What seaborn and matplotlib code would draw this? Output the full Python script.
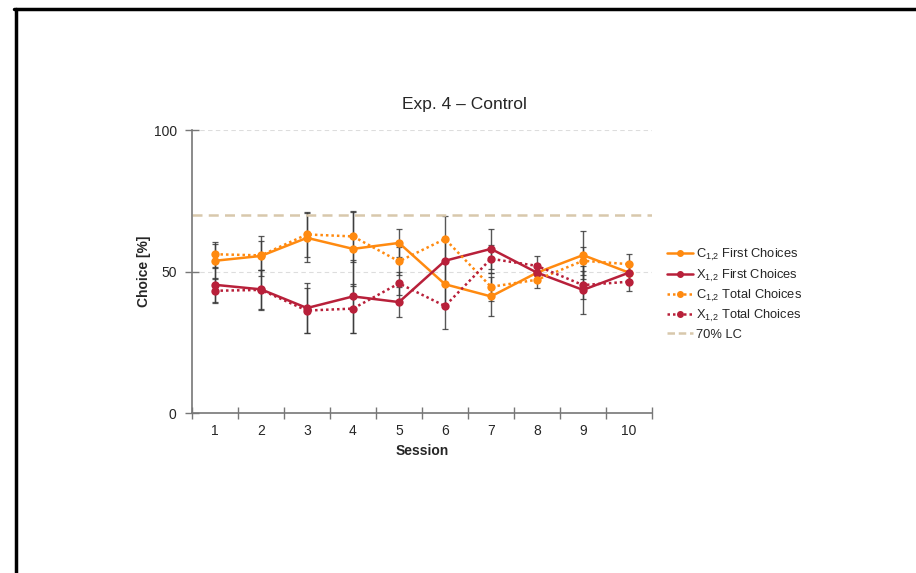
import matplotlib
matplotlib.use('Agg')
import matplotlib.pyplot as plt
import pandas as pd
import seaborn as sns
from matplotlib.lines import Line2D

# values
sessions = [1, 2, 3, 4, 5, 6, 7, 8, 9, 10]
c_first = [53.8, 55.5, 61.9, 58.0, 60.1, 45.5, 41.2, 49.6, 55.8, 49.6]
x_first = [45.3, 43.7, 37.1, 41.2, 39.2, 53.8, 58.0, 49.6, 43.5, 49.6]
c_total = [56.1, 55.7, 63.1, 62.4, 53.6, 61.5, 44.6, 47.1, 53.8, 52.6]
x_total = [43.2, 43.5, 36.2, 36.9, 45.8, 37.8, 54.5, 52.0, 45.2, 46.4]
c_first_err = [6.0, 7.0, 8.7, 13.0, 4.8, 8.0, 7.0, 3.0, 8.5, 3.5]
x_first_err = [6.0, 7.0, 8.8, 13.0, 5.2, 8.0, 7.0, 3.0, 8.5, 3.5]
c_total_err = [4.5, 5.0, 8.0, 9.0, 5.0, 8.0, 5.0, 3.0, 5.0, 3.5]
x_total_err = [4.3, 7.0, 8.0, 8.6, 4.0, 8.0, 5.0, 3.5, 5.0, 3.2]
lc_level = 70

names = ['C$_{1{,}2}$ First Choices', 'X$_{1{,}2}$ First Choices',
         'C$_{1{,}2}$ Total Choices', 'X$_{1{,}2}$ Total Choices']
means = [c_first, x_first, c_total, x_total]
errs = [c_first_err, x_first_err, c_total_err, x_total_err]

orange = '#FF8A10'
red = '#B8203A'
colors = {names[0]: orange, names[1]: red, names[2]: orange, names[3]: red}
dashes = {names[0]: '', names[1]: '', names[2]: (1, 1.2), names[3]: (1, 1.2)}

rows = []
for n, m in zip(names, means):
    for s, v in zip(sessions, m):
        rows.append({'Session': s, 'Choice': v, 'series': n})
df = pd.DataFrame(rows)

sns.set_style('white')
plt.rcParams['font.family'] = ['Liberation Sans', 'DejaVu Sans']
plt.rcParams['mathtext.fontset'] = 'custom'
plt.rcParams['mathtext.rm'] = 'Liberation Sans'
plt.rcParams['mathtext.default'] = 'regular'

fig = plt.figure(figsize=(9.16, 5.73), dpi=100)
ax = fig.add_axes([0.2096, 0.2792, 0.5022, 0.4939])

# error bars behind the lines
for m, e in zip(means, errs):
    ax.errorbar(sessions, m, yerr=e, fmt='none', ecolor='#3a3a3a', elinewidth=1,
                capsize=2.2, capthick=0.9, zorder=1, alpha=0.85)

ax.axhline(lc_level, color='#D8C8AC', lw=1.8, ls=(0, (4, 2.5)), zorder=2)
for g in [50, 100]:
    ax.axhline(g, color='#DDDDDD', lw=0.8, ls=(0, (4, 3)), zorder=0)

sns.lineplot(data=df, x='Session', y='Choice', hue='series', style='series',
             palette=colors, dashes=dashes, markers={n: 'o' for n in names},
             markersize=6, markeredgewidth=0, linewidth=1.8, ax=ax, zorder=3,
             legend=False)

ax.set_xlim(0.5, 10.5)
ax.set_ylim(0, 100)
ax.set_xticks(sessions)
ax.set_xticks([s + 0.5 for s in [0] + sessions], minor=True)
ax.set_yticks([0, 50, 100])
ax.tick_params(axis='x', which='major', bottom=True, length=0, labelsize=10, pad=8)
ax.tick_params(axis='x', which='minor', bottom=True, direction='inout', length=8,
               color='#777777', width=1)
ax.tick_params(axis='y', which='major', left=True, direction='inout', length=10,
               color='#777777', width=1, labelsize=10, pad=6)
for side in ['top', 'right']:
    ax.spines[side].set_visible(False)
for side in ['left', 'bottom']:
    ax.spines[side].set_color('#777777')
    ax.spines[side].set_linewidth(1.2)
ax.set_xlabel('Session', fontsize=10, fontweight='bold', labelpad=4)
ax.set_ylabel('Choice [%]', fontsize=10, fontweight='bold', labelpad=2)

handles = [
    Line2D([], [], color=orange, lw=1.8, marker='o', markersize=4),
    Line2D([], [], color=red, lw=1.8, marker='o', markersize=4),
    Line2D([], [], color=orange, lw=1.8, ls=(0, (1, 1.2)), marker='o', markersize=4),
    Line2D([], [], color=red, lw=1.8, ls=(0, (1, 1.2)), marker='o', markersize=4),
    Line2D([], [], color='#D8C8AC', lw=1.8, ls=(0, (3, 1.5))),
]
fig.legend(handles, names + ['70% LC'], loc='upper left',
           bbox_to_anchor=(0.7215, 0.58), frameon=False, fontsize=9.3,
           handlelength=2.0, handletextpad=0.2, labelspacing=0.33, borderpad=0)

fig.text(0.507, 0.817, 'Exp. 4 – Control', ha='center', va='center', fontsize=12.5)

# frame border from the screenshot
fig.add_artist(Line2D([15.5 / 916, 15.5 / 916], [0, 1 - 9 / 573], color='black', lw=2.5))
fig.add_artist(Line2D([14.3 / 916, 1], [1 - 9 / 573, 1 - 9 / 573], color='black', lw=2.5))

fig.savefig('out.png', dpi=100)
